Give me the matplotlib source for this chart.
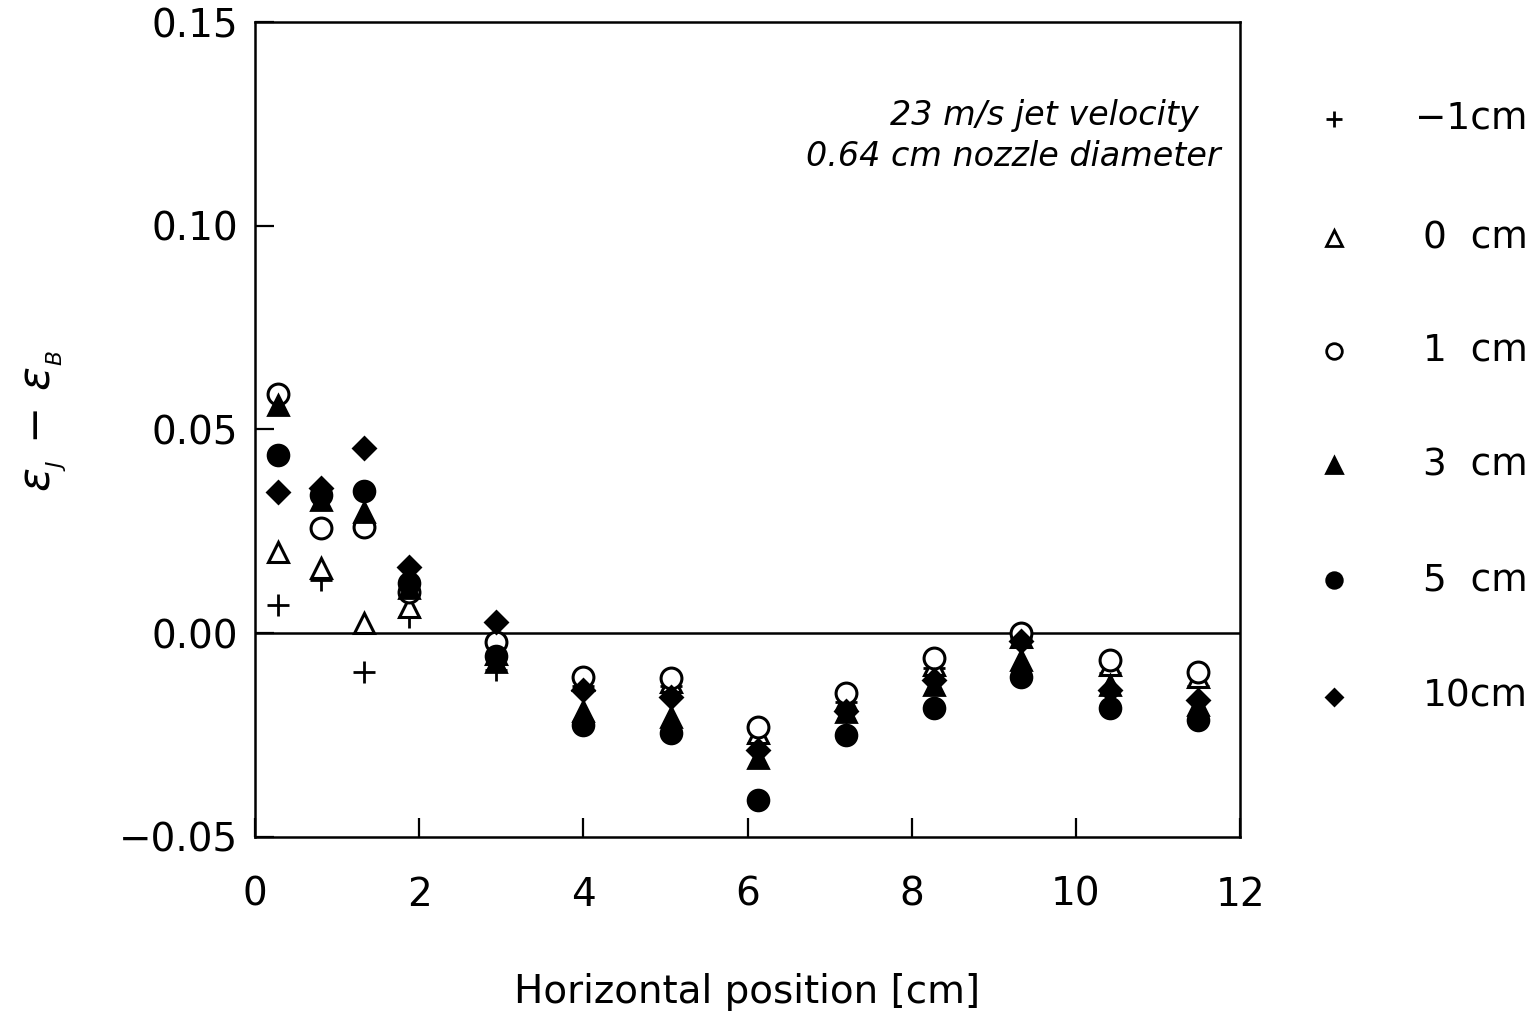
import numpy as np
import matplotlib
matplotlib.use('Agg')
import matplotlib.pyplot as plt

# horizontal positions [cm]
x = [0.28, 0.80, 1.33, 1.87, 2.93, 4.00, 5.07, 6.13, 7.20, 8.27, 9.33, 10.42, 11.49]

# eps_J - eps_B for each vertical distance
y_m1 = [0.0069, 0.0130, -0.0096, 0.0040, -0.0090, -0.0130, -0.0130, -0.0270, -0.0170, -0.0086, -0.0012, -0.0098, -0.0130]
y_0 = [0.0200, 0.0160, 0.0025, 0.0064, -0.0050, -0.0115, -0.0120, -0.0245, -0.0164, -0.0078, -0.0010, -0.0079, -0.0108]
y_1 = [0.0587, 0.0258, 0.0260, 0.0100, -0.0022, -0.0108, -0.0110, -0.0230, -0.0147, -0.0061, 0.0000, -0.0066, -0.0096]
y_3 = [0.0560, 0.0326, 0.0297, 0.0110, -0.0070, -0.0190, -0.0206, -0.0307, -0.0194, -0.0128, -0.0066, -0.0128, -0.0177]
y_5 = [0.0437, 0.0340, 0.0350, 0.0123, -0.0055, -0.0226, -0.0245, -0.0410, -0.0250, -0.0184, -0.0108, -0.0184, -0.0213]
y_10 = [0.0346, 0.0356, 0.0454, 0.0162, 0.0027, -0.0140, -0.0157, -0.0287, -0.0190, -0.0115, -0.0020, -0.0140, -0.0164]

labels = ['\u22121cm', '0  cm', '1  cm', '3  cm', '5  cm', '10cm']
series = [y_m1, y_0, y_1, y_3, y_5, y_10]
markers = ['+', '^', 'o', '^', 'o', 'D']
filled = [True, False, False, True, True, True]
sizes = [16, 15, 15, 15, 15, 11]

plt.rcParams['font.family'] = ['DejaVu Sans']

fig = plt.figure(figsize=(15.4, 10.14), dpi=100)
ax = fig.add_axes([0.1656, 0.1746, 0.6396, 0.8037])

for ys, m, f, s in zip(series, markers, filled, sizes):
    if f:
        ax.plot(x, ys, linestyle='none', marker=m, markersize=s, color='black',
                markeredgewidth=2.0)
    else:
        ax.plot(x, ys, linestyle='none', marker=m, markersize=s,
                markerfacecolor='white', markeredgecolor='black', markeredgewidth=2.2)

ax.axhline(0, color='black', linewidth=1.8, zorder=0)

ax.set_xlim(0, 12)
ax.set_ylim(-0.05, 0.15)
ax.set_xticks(np.arange(0, 13, 2))
ax.set_yticks([-0.05, 0.0, 0.05, 0.10, 0.15])
ax.set_yticklabels(['\u22120.05', '0.00', '0.05', '0.10', '0.15'])
ax.tick_params(direction='in', length=14, width=1.6, labelsize=28)
ax.tick_params(axis='x', pad=28)
ax.tick_params(axis='y', pad=12)
for sp in ax.spines.values():
    sp.set_linewidth(1.8)

ax.set_xlabel('Horizontal position [cm]', fontsize=28, va='center')
ax.xaxis.set_label_coords(0.5, -0.19)
ax.set_ylabel(r'$\varepsilon_{_J}\,-\,\varepsilon_{_B}$', fontsize=32, va='center')
ax.yaxis.set_label_coords(-0.213, 0.51)

ax.text(0.98, 0.905, '23 m/s jet velocity  \n0.64 cm nozzle diameter',
        transform=ax.transAxes, ha='right', va='top', fontsize=24,
        style='italic', linespacing=1.3)

# legend drawn at the right of the axes
leg_y = [0.883, 0.765, 0.654, 0.541, 0.428, 0.313]
for yy, lab, m, f, s in zip(leg_y, labels, markers, filled, sizes):
    fc = 'black' if f else 'white'
    fig.add_artist(plt.Line2D([0.866], [yy], marker=m, markersize=s * 0.75,
                              markerfacecolor=fc, markeredgecolor='black',
                              markeredgewidth=2.0, linestyle='none'))
    fig.text(0.992, yy, lab, ha='right', va='center', fontsize=27)

fig.savefig('out.png', dpi=100)
